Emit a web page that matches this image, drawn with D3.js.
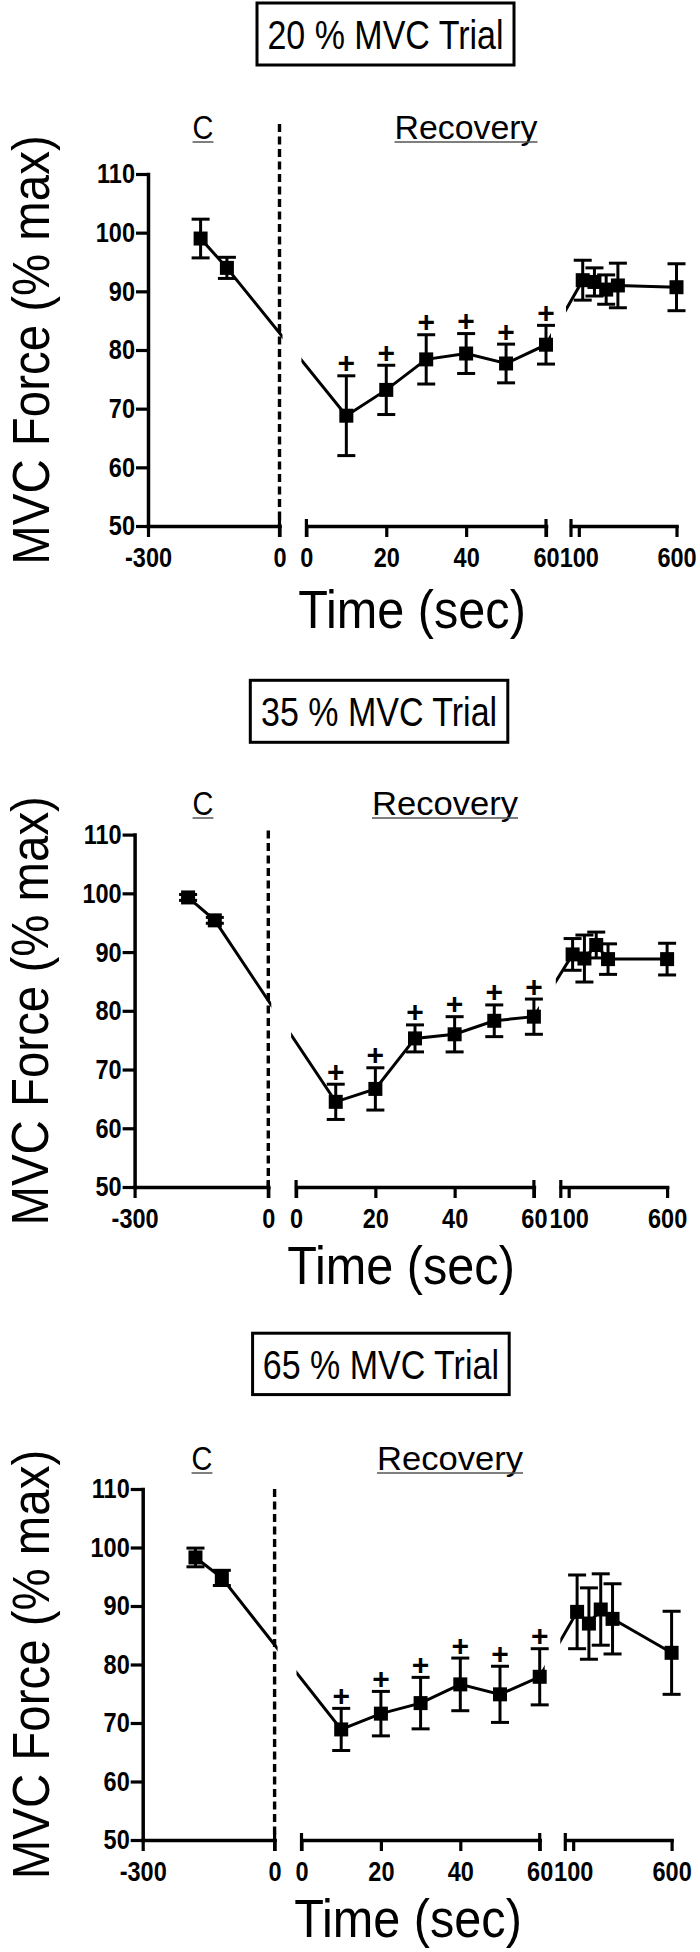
<!DOCTYPE html>
<html><head><meta charset="utf-8">
<script src="https://cdn.jsdelivr.net/npm/d3@7/dist/d3.min.js"></script>
<style>body{margin:0;background:#fff}svg{display:block}</style>
</head><body>
<svg id="chart" width="700" height="1952"></svg>
<script>
// ---------- data ----------
const times = [-180, -120, 10, 20, 30, 40, 50, 60, 120, 180, 240, 300, 600];
const trialTitles = ["20 % MVC Trial", "35 % MVC Trial", "65 % MVC Trial"];
const mean20 = [99.0, 94.0, 68.8, 73.2, 78.4, 79.4, 77.7, 80.9, 91.9, 91.6, 90.3, 91.0, 90.7];
const sem20  = [3.3, 1.8, 6.8, 4.2, 4.2, 3.4, 3.3, 3.3, 3.4, 2.4, 2.5, 3.8, 4.0];
const mean35 = [99.3, 95.4, 64.5, 66.7, 75.3, 76.0, 78.3, 79.0, 89.6, 88.9, 91.2, 88.8, 88.8];
const sem35  = [0.5, 0.5, 3.0, 3.6, 2.3, 3.0, 2.7, 3.0, 2.7, 4.0, 2.2, 2.6, 2.7];
const mean65 = [98.3, 94.8, 68.9, 71.6, 73.4, 76.6, 74.9, 77.9, 89.0, 87.0, 89.4, 87.8, 82.0];
const sem65  = [1.6, 1.3, 3.6, 3.8, 4.4, 4.5, 4.8, 4.8, 6.3, 6.1, 6.1, 6.0, 7.1];
const plusTimes = [10, 20, 30, 40, 50, 60];
const yTicks = [50, 60, 70, 80, 90, 100, 110];
const yDomain = [50, 110];
const segDomains = [[-300, 0], [0, 60], [60, 600]];
const segTicks = [[-300, 0], [0, 20, 40, 60], [100, 600]];
const phaseLabels = ["C", "Recovery"];
const yLabel = "MVC Force (% max)";
const xLabel = "Time (sec)";

const series = [
  {title: trialTitles[0], mean: mean20, sem: sem20},
  {title: trialTitles[1], mean: mean35, sem: sem35},
  {title: trialTitles[2], mean: mean65, sem: sem65}
];

// ---------- layout (pixels) ----------
const layout = [
  {box:[257,3,257,62], phaseY:139, cX:203, recX:466, recW:143, yTop:174, yBot:526,
   segs:[[148,279.5],[306.4,546],[571,676.5]], dashTop:124, yTitleX:49, xTitleX:412, xTitleY:628},
  {box:[250.3,680.3,257.5,62], phaseY:815, cX:203, recX:445, recW:146, yTop:834.6, yBot:1187,
   segs:[[134.6,268.3],[296.1,533.9],[560.8,667.1]], dashTop:830.5, yTitleX:48, xTitleX:401, xTitleY:1284},
  {box:[252.6,1333.2,256.6,61.4], phaseY:1470, cX:202, recX:450, recW:146, yTop:1489, yBot:1840,
   segs:[[142.7,274.6],[301.5,539.7],[565.3,671.6]], dashTop:1489, yTitleX:49, xTitleX:408, xTitleY:1937}
];

const FONT = "'Liberation Sans', Arial, Helvetica, sans-serif";
const TICK_SQUEEZE = 0.84;
const svg = d3.select("#chart");

// text helper with horizontal condensing (narrow-font look)
function label(g, x, y, txt, size, sx, opts = {}) {
  return g.append("text")
    .attr("transform", `translate(${x},${y})${opts.rotate ? " rotate(" + opts.rotate + ")" : ""} scale(${sx},1)`)
    .attr("text-anchor", opts.anchor || "middle").attr("font-family", FONT).attr("font-size", size)
    .attr("font-weight", opts.weight || "normal").text(txt);
}

series.forEach((s, p) => {
  const L = layout[p];
  const g = svg.append("g");
  const y = d3.scaleLinear().domain(yDomain).range([L.yBot, L.yTop]);
  const xs = segDomains.map((d, i) => d3.scaleLinear().domain(d).range(L.segs[i]));
  const segOf = t => t <= 0 ? 0 : (t <= 60 ? 1 : 2);
  const X = t => xs[segOf(t)](t);

  // title box
  g.append("rect").attr("x", L.box[0]).attr("y", L.box[1]).attr("width", L.box[2]).attr("height", L.box[3])
    .attr("fill", "#fff").attr("stroke", "#000").attr("stroke-width", 3);
  label(g, L.box[0] + L.box[2] / 2, L.box[1] + 45.5, s.title, 40, 0.85);

  // phase labels with underline
  const cT = label(g, L.cX, L.phaseY, phaseLabels[0], 34, 0.85);
  const cW = cT.node().getComputedTextLength() * 0.85;
  g.append("line").attr("x1", L.cX - cW / 2).attr("x2", L.cX + cW / 2)
    .attr("y1", L.phaseY + 3).attr("y2", L.phaseY + 3).attr("stroke", "#555").attr("stroke-width", 1.5);
  g.append("text").attr("x", L.recX - L.recW / 2).attr("y", L.phaseY)
    .attr("font-family", FONT).attr("font-size", 34).attr("textLength", L.recW).attr("lengthAdjust", "spacingAndGlyphs")
    .text(phaseLabels[1]);
  g.append("line").attr("x1", L.recX - L.recW / 2).attr("x2", L.recX + L.recW / 2)
    .attr("y1", L.phaseY + 3).attr("y2", L.phaseY + 3).attr("stroke", "#555").attr("stroke-width", 1.5);

  // dashed divider at time 0
  g.append("line").attr("x1", xs[0](0)).attr("x2", xs[0](0)).attr("y1", L.dashTop).attr("y2", L.yBot)
    .attr("stroke", "#000").attr("stroke-width", 3.4).attr("stroke-dasharray", "8,4.5");

  // y axis
  const ya = g.append("g").attr("transform", `translate(${L.segs[0][0]},0)`)
    .call(d3.axisLeft(y).tickValues(yTicks).tickSize(12).tickSizeOuter(0).tickPadding(1));
  // x axis segments
  const xaxes = xs.map((xsc, i) => g.append("g").attr("transform", `translate(0,${L.yBot})`)
    .call(d3.axisBottom(xsc).tickValues(segTicks[i]).tickSize(11).tickSizeOuter(0).tickPadding(10)
      .tickFormat(d => String(d))));
  [ya, ...xaxes].forEach(a => {
    a.select(".domain").attr("stroke", "#000").attr("stroke-width", 3.5).attr("stroke-linecap", "square");
    a.selectAll(".tick line").attr("stroke", "#000").attr("stroke-width", 3.2);
    a.selectAll(".tick text").attr("fill", "#000").attr("font-family", FONT)
      .attr("font-size", 28).attr("font-weight", "bold");
  });
  ya.selectAll(".tick text").attr("x", -13 / TICK_SQUEEZE).attr("transform", `scale(${TICK_SQUEEZE},1)`);
  xaxes.forEach(a => a.selectAll(".tick text").attr("transform", `scale(${TICK_SQUEEZE},1)`));

  // break marks at inner segment ends
  const breaks = [L.segs[0][1], L.segs[1][0], L.segs[1][1], L.segs[2][0]];
  g.selectAll(null).data(breaks).enter().append("line")
    .attr("x1", d => d).attr("x2", d => d).attr("y1", L.yBot - 7).attr("y2", L.yBot + 11)
    .attr("stroke", "#000").attr("stroke-width", 3.2);

  // axis titles
  label(g, L.yTitleX, (L.yTop + L.yBot) / 2, yLabel, 51, 0.93, {rotate: -90});
  label(g, L.xTitleX, L.xTitleY, xLabel, 54, 0.9);

  // clip for connecting line (hidden across the axis breaks)
  const clipId = "clip" + p;
  const cp = svg.append("defs").append("clipPath").attr("id", clipId);
  const clipRanges = [[L.segs[0][0], L.segs[0][1] + 3], [L.segs[1][0] - 5, L.segs[1][1] + 5], [L.segs[2][0] - 5, 700]];
  clipRanges.forEach(r => cp.append("rect").attr("x", r[0]).attr("y", 0).attr("width", r[1] - r[0]).attr("height", 1952));

  const pts = times.map((t, i) => ({t, m: s.mean[i], e: s.sem[i]}));
  g.append("path").datum(pts).attr("clip-path", `url(#${clipId})`)
    .attr("d", d3.line().x(d => X(d.t)).y(d => y(d.m)))
    .attr("fill", "none").attr("stroke", "#000").attr("stroke-width", 3);

  // error bars
  const eb = g.selectAll(null).data(pts).enter().append("g");
  eb.append("line").attr("x1", d => X(d.t)).attr("x2", d => X(d.t))
    .attr("y1", d => y(d.m - d.e)).attr("y2", d => y(d.m + d.e)).attr("stroke", "#000").attr("stroke-width", 3);
  [1, -1].forEach(sg => {
    eb.append("line").attr("x1", d => X(d.t) - 9).attr("x2", d => X(d.t) + 9)
      .attr("y1", d => y(d.m + sg * d.e)).attr("y2", d => y(d.m + sg * d.e))
      .attr("stroke", "#000").attr("stroke-width", 3);
  });
  // markers
  g.selectAll(null).data(pts).enter().append("rect")
    .attr("x", d => X(d.t) - 7).attr("y", d => y(d.m) - 7).attr("width", 14).attr("height", 14)
    .attr("fill", "#000");
  // significance
  g.selectAll(null).data(pts.filter(d => plusTimes.includes(d.t))).enter().append("text")
    .attr("x", d => X(d.t)).attr("y", d => y(d.m + d.e) - 13 + 10.5)
    .attr("text-anchor", "middle").attr("font-family", FONT).attr("font-size", 30).attr("font-weight", "bold")
    .text("+");
});
</script>
</body></html>
